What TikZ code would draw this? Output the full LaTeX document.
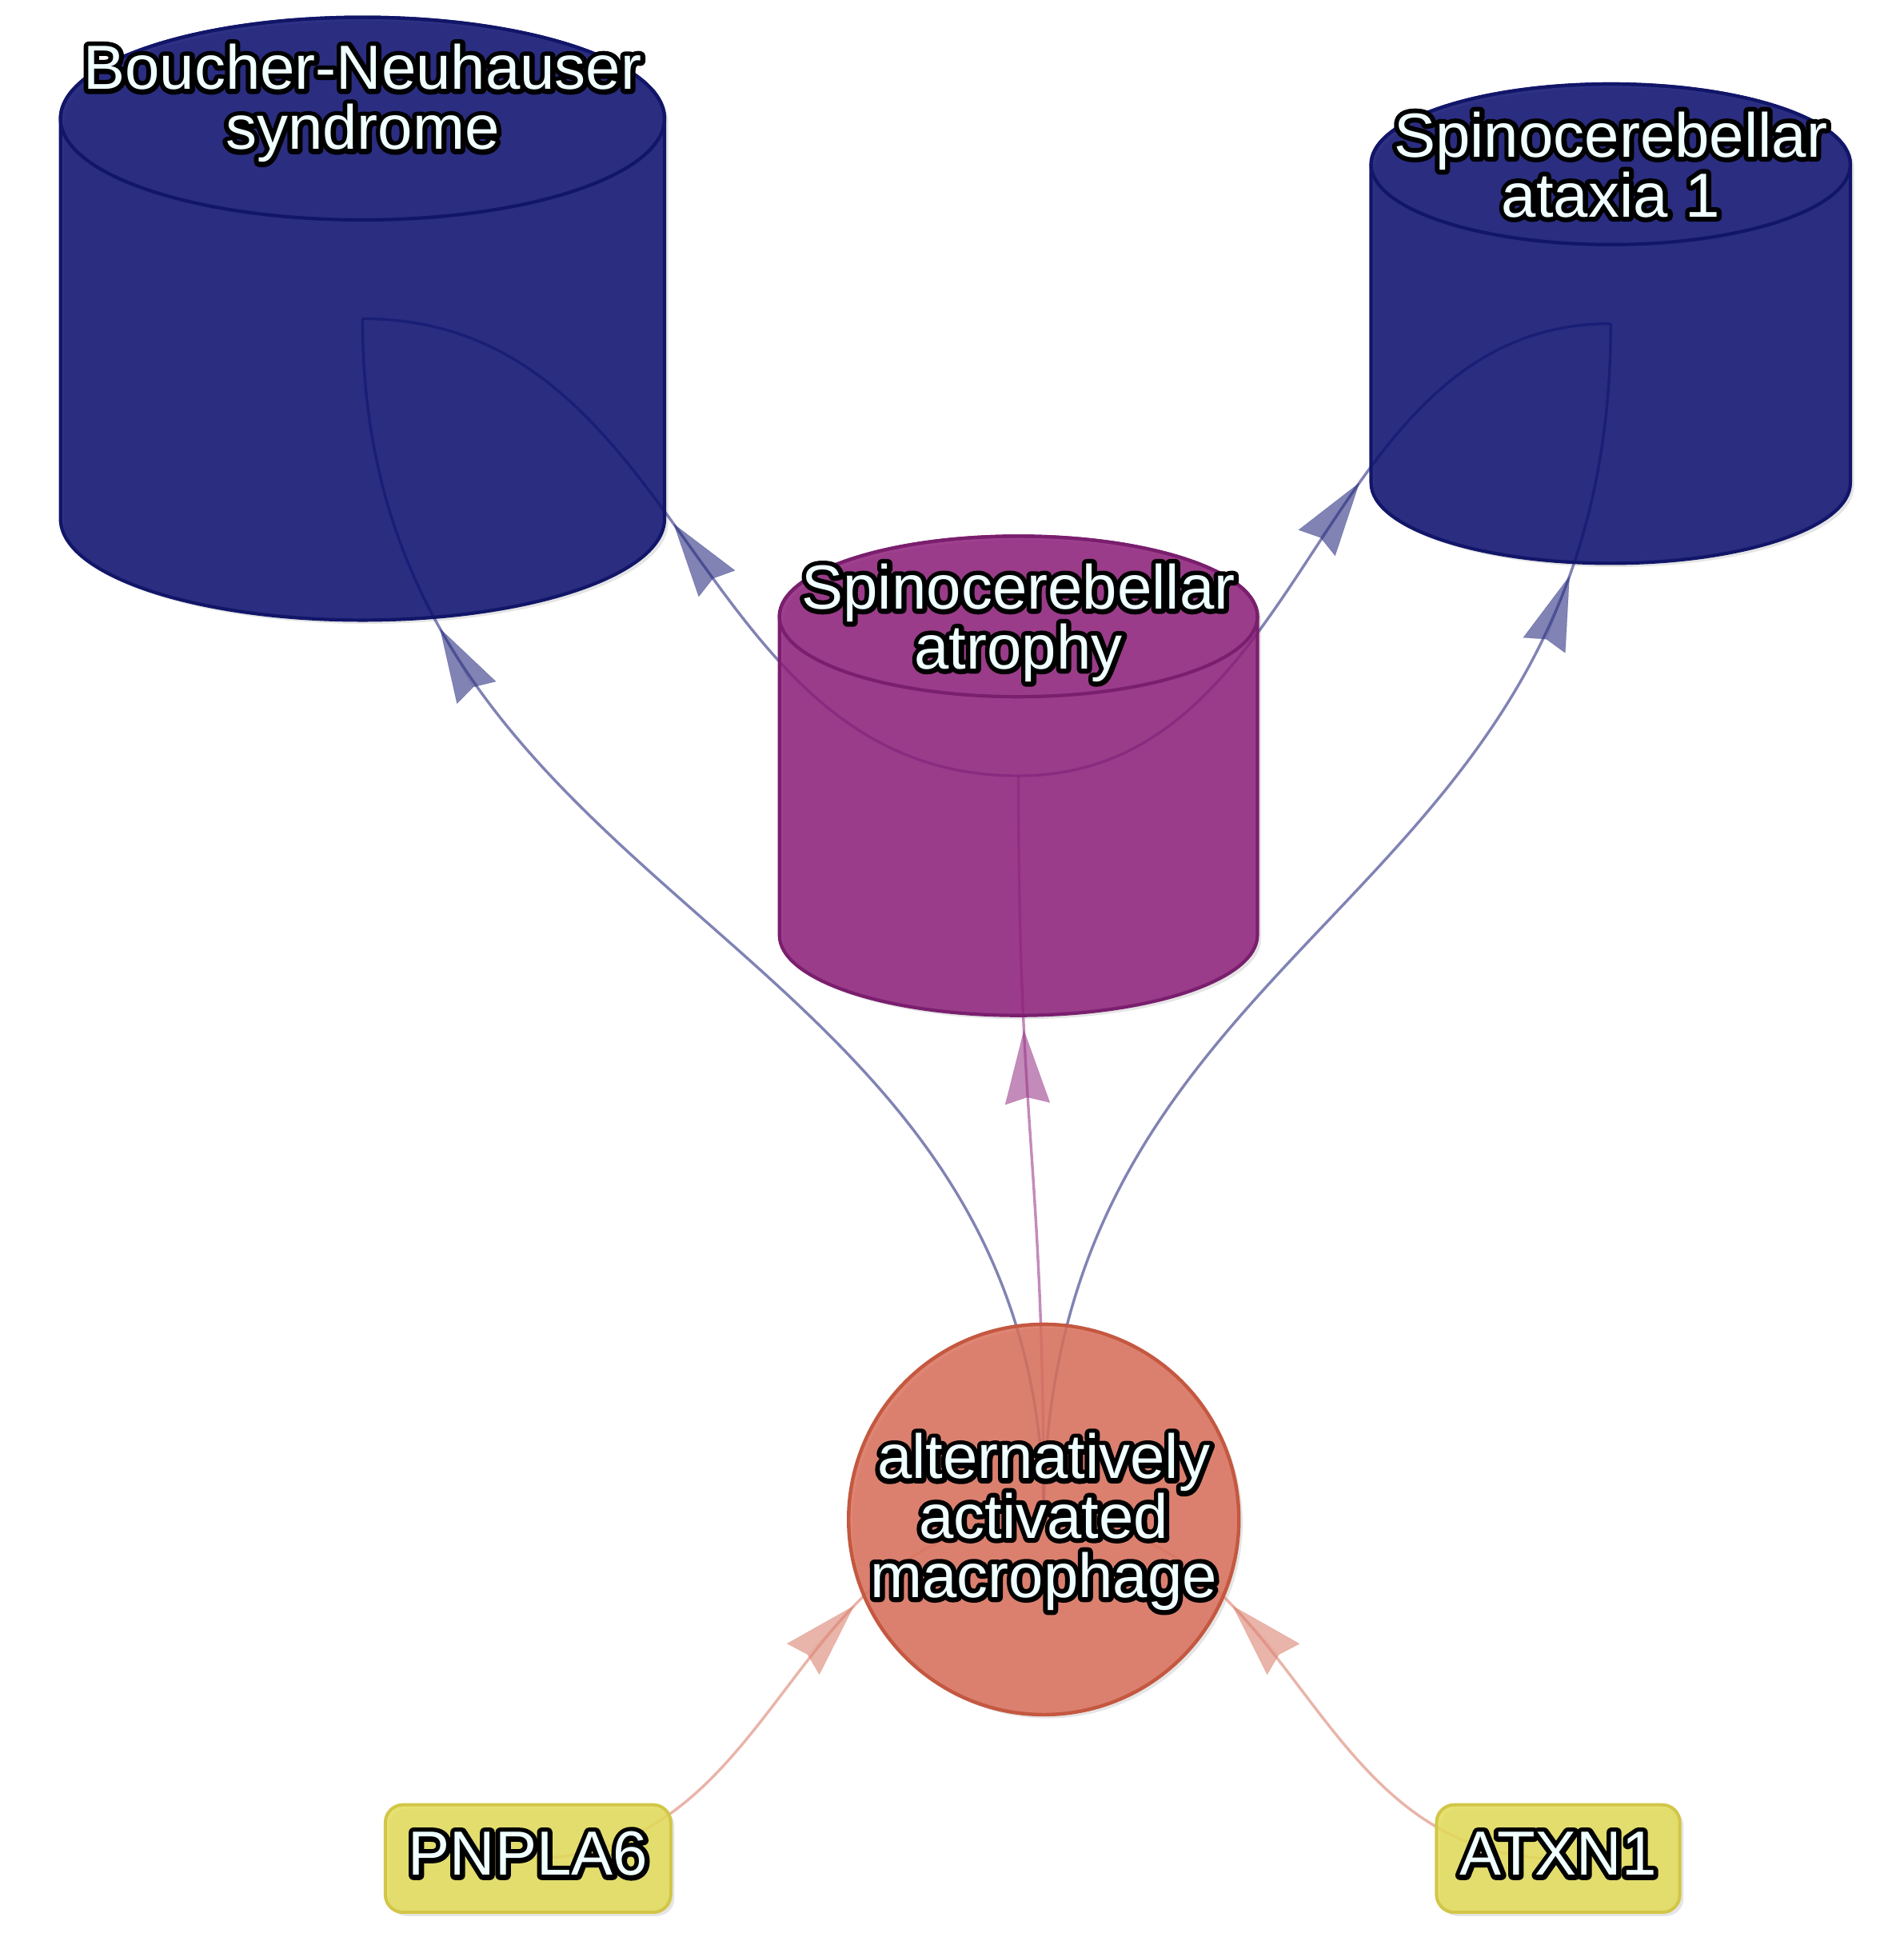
\documentclass[tikz,border=0pt]{standalone}
\usepackage{fontspec}
\setmainfont{Liberation Sans}
\usetikzlibrary{arrows.meta,backgrounds}
\definecolor{navyF}{RGB}{10,14,110}
\definecolor{navyB}{RGB}{18,22,105}
\definecolor{navyE}{RGB}{43,48,128}
\definecolor{purpF}{RGB}{141,31,122}
\definecolor{purpB}{RGB}{122,30,110}
\definecolor{purpE}{RGB}{155,61,139}
\definecolor{salF}{RGB}{217,112,91}
\definecolor{salB}{RGB}{196,88,64}
\definecolor{salE}{RGB}{219,130,112}
\definecolor{yelF}{RGB}{227,220,88}
\definecolor{yelB}{RGB}{210,198,72}
\definecolor{txtc}{RGB}{240,255,255}
% outlined text: a stroked black copy under the filled copy
\newcommand\otext[1]{\rlap{\special{pdf:literal direct q 1 Tr 6 w 1 j 1 J 0 0 0 RG}#1\special{pdf:literal direct Q}}#1}
% #1 cx, #2 top cy, #3 bottom cy, #4 rx, #5 ry, #6 fill, #7 border
\newcommand\mkcyl[7]{%
  \path[fill=#6, fill opacity=0.85, draw=#7, line width=2.1pt]
    ({#1-#4},#2) -- ({#1-#4},#3) arc[start angle=180,end angle=0,x radius=#4,y radius=#5]
    -- ({#1+#4},#2) arc[start angle=0,end angle=-180,x radius=#4,y radius=#5] -- cycle;
  \draw[#7, line width=2.1pt] (#1,#2) ellipse[x radius=#4,y radius=#5];
}
\newcommand\mkcylshadow[5]{%
  \fill[black, opacity=0.10]
    ({#1-#4+3},{#2+3}) -- ({#1-#4+3},{#3+3}) arc[start angle=180,end angle=0,x radius=#4,y radius=#5]
    -- ({#1+#4+3},{#2+3}) arc[start angle=0,end angle=-180,x radius=#4,y radius=#5] -- cycle;
}
\begin{document}
\begin{tikzpicture}[x=0.77222pt,y=-0.77222pt,
  lbl/.style={anchor=base, inner sep=0pt, outer sep=0pt, text=txtc, font=\fontsize{39}{37}\selectfont},
  holder/.style={inner sep=0pt, outer sep=0pt},
  genebox/.style={rectangle, rounded corners=11pt, fill=yelF, fill opacity=0.85, draw=yelB, line width=2pt, minimum height=67.2pt, inner sep=0pt},
  edgeN/.style={draw=navyE, opacity=0.6, line width=1.7pt},
  edgeP/.style={draw=purpE, opacity=0.6, line width=1.7pt},
  edgeS/.style={draw=salE, opacity=0.6, line width=1.7pt},
  arr/.style={-{Stealth[length=46pt,width=28pt,inset=4pt]}, line width=0.1pt, opacity=0.6},
]
\useasboundingbox (0,0) rectangle (1541,1568);

% cylinder holders
\node[holder, minimum width=377.6pt, minimum height=376.8pt] (bns) at (293.5,258) {};
\node[holder, minimum width=298.8pt, minimum height=299.6pt] (atr) at (824.5,628) {};
\node[holder, minimum width=299.6pt, minimum height=299.6pt] (ata) at (1304,262) {};

\mkcyl{293.5}{96}{420}{244.5}{82}{navyF}{navyB}
\mkcyl{824.5}{499}{757}{193.5}{65}{purpF}{purpB}
\mkcyl{1304}{133}{391}{194}{65}{navyF}{navyB}

\node[circle, minimum size=244pt, inner sep=0pt, fill=salF, fill opacity=0.85, draw=salB, line width=2.2pt] (mac) at (845,1230) {};
\node[genebox, minimum width=178.4pt] (pnp) at (427.5,1504.5) {};
\node[genebox, minimum width=152.1pt] (atx) at (1261.5,1504.5) {};

% labels
\node[lbl] (bns-l1) at (293.5,72.3) {\otext{Boucher-Neuhauser}};
\node[lbl] (bns-l2) at (293.5,121) {\otext{syndrome}};
\node[lbl] (atr-l1) at (824.5,493) {\otext{Spinocerebellar}};
\node[lbl] (atr-l2) at (824.5,541.5) {\otext{atrophy}};
\node[lbl] (ata-l1) at (1304,127) {\otext{Spinocerebellar}};
\node[lbl] (ata-l2) at (1304,175.5) {\otext{ataxia 1}};
\node[lbl] (mac-l1) at (845,1197) {\otext{alternatively}};
\node[lbl] (mac-l2) at (845,1245) {\otext{activated}};
\node[lbl] (mac-l3) at (845,1293) {\otext{macrophage}};
\node[lbl] (pnp-l) at (427.5,1518) {\otext{PNPLA6}};
\node[lbl] (atx-l) at (1261.5,1518) {\otext{ATXN1}};

\begin{pgfonlayer}{background}
  % shadows
  \mkcylshadow{293.5}{96}{420}{244.5}{82}
  \mkcylshadow{824.5}{499}{757}{193.5}{65}
  \mkcylshadow{1304}{133}{391}{194}{65}
  \fill[black, opacity=0.10] (848,1233) circle[radius=158];
  \fill[black, opacity=0.10, rounded corners=11pt] (315,1464) rectangle (546,1551);
  \fill[black, opacity=0.10, rounded corners=11pt] (1166,1464) rectangle (1363,1551);

  % edges
  \draw[edgeN] (mac.center) .. controls (845,744) and (293.5,744) .. (bns.center)
     coordinate[pos=0.79] (tipA) coordinate[pos=0.786] (tailA);
  \draw[edgeN] (mac.center) .. controls (845,746) and (1304,746) .. (ata.center)
     coordinate[pos=0.835] (tipD) coordinate[pos=0.831] (tailD);
  \draw[edgeP] (mac.center) .. controls (845,929) and (824.5,929) .. (atr.center)
     coordinate[pos=0.70] (tipE) coordinate[pos=0.696] (tailE);
  \draw[edgeN] (atr.center) .. controls (559,628) and (559,258) .. (bns.center)
     coordinate[pos=0.534] (tipB) coordinate[pos=0.530] (tailB);
  \draw[edgeN] (atr.center) .. controls (1064,628) and (1064,262) .. (ata.center)
     coordinate[pos=0.60] (tipC) coordinate[pos=0.596] (tailC);
  \draw[edgeS] (pnp.center) .. controls (636,1504.5) and (636,1230) .. (mac.center)
     coordinate[pos=0.67] (tipF) coordinate[pos=0.666] (tailF);
  \draw[edgeS] (atx.center) .. controls (1053,1504.5) and (1053,1230) .. (mac.center)
     coordinate[pos=0.67] (tipG) coordinate[pos=0.666] (tailG);

  % arrowheads
  \draw[arr, navyE] (tailA) -- (tipA);
  \draw[arr, navyE] (tailD) -- (tipD);
  \draw[arr, purpE] (tailE) -- (tipE);
  \draw[arr, navyE] (tailB) -- (tipB);
  \draw[arr, navyE] (tailC) -- (tipC);
  \draw[arr, salE] (tailF) -- (tipF);
  \draw[arr, salE] (tailG) -- (tipG);
\end{pgfonlayer}
\end{tikzpicture}
\end{document}
